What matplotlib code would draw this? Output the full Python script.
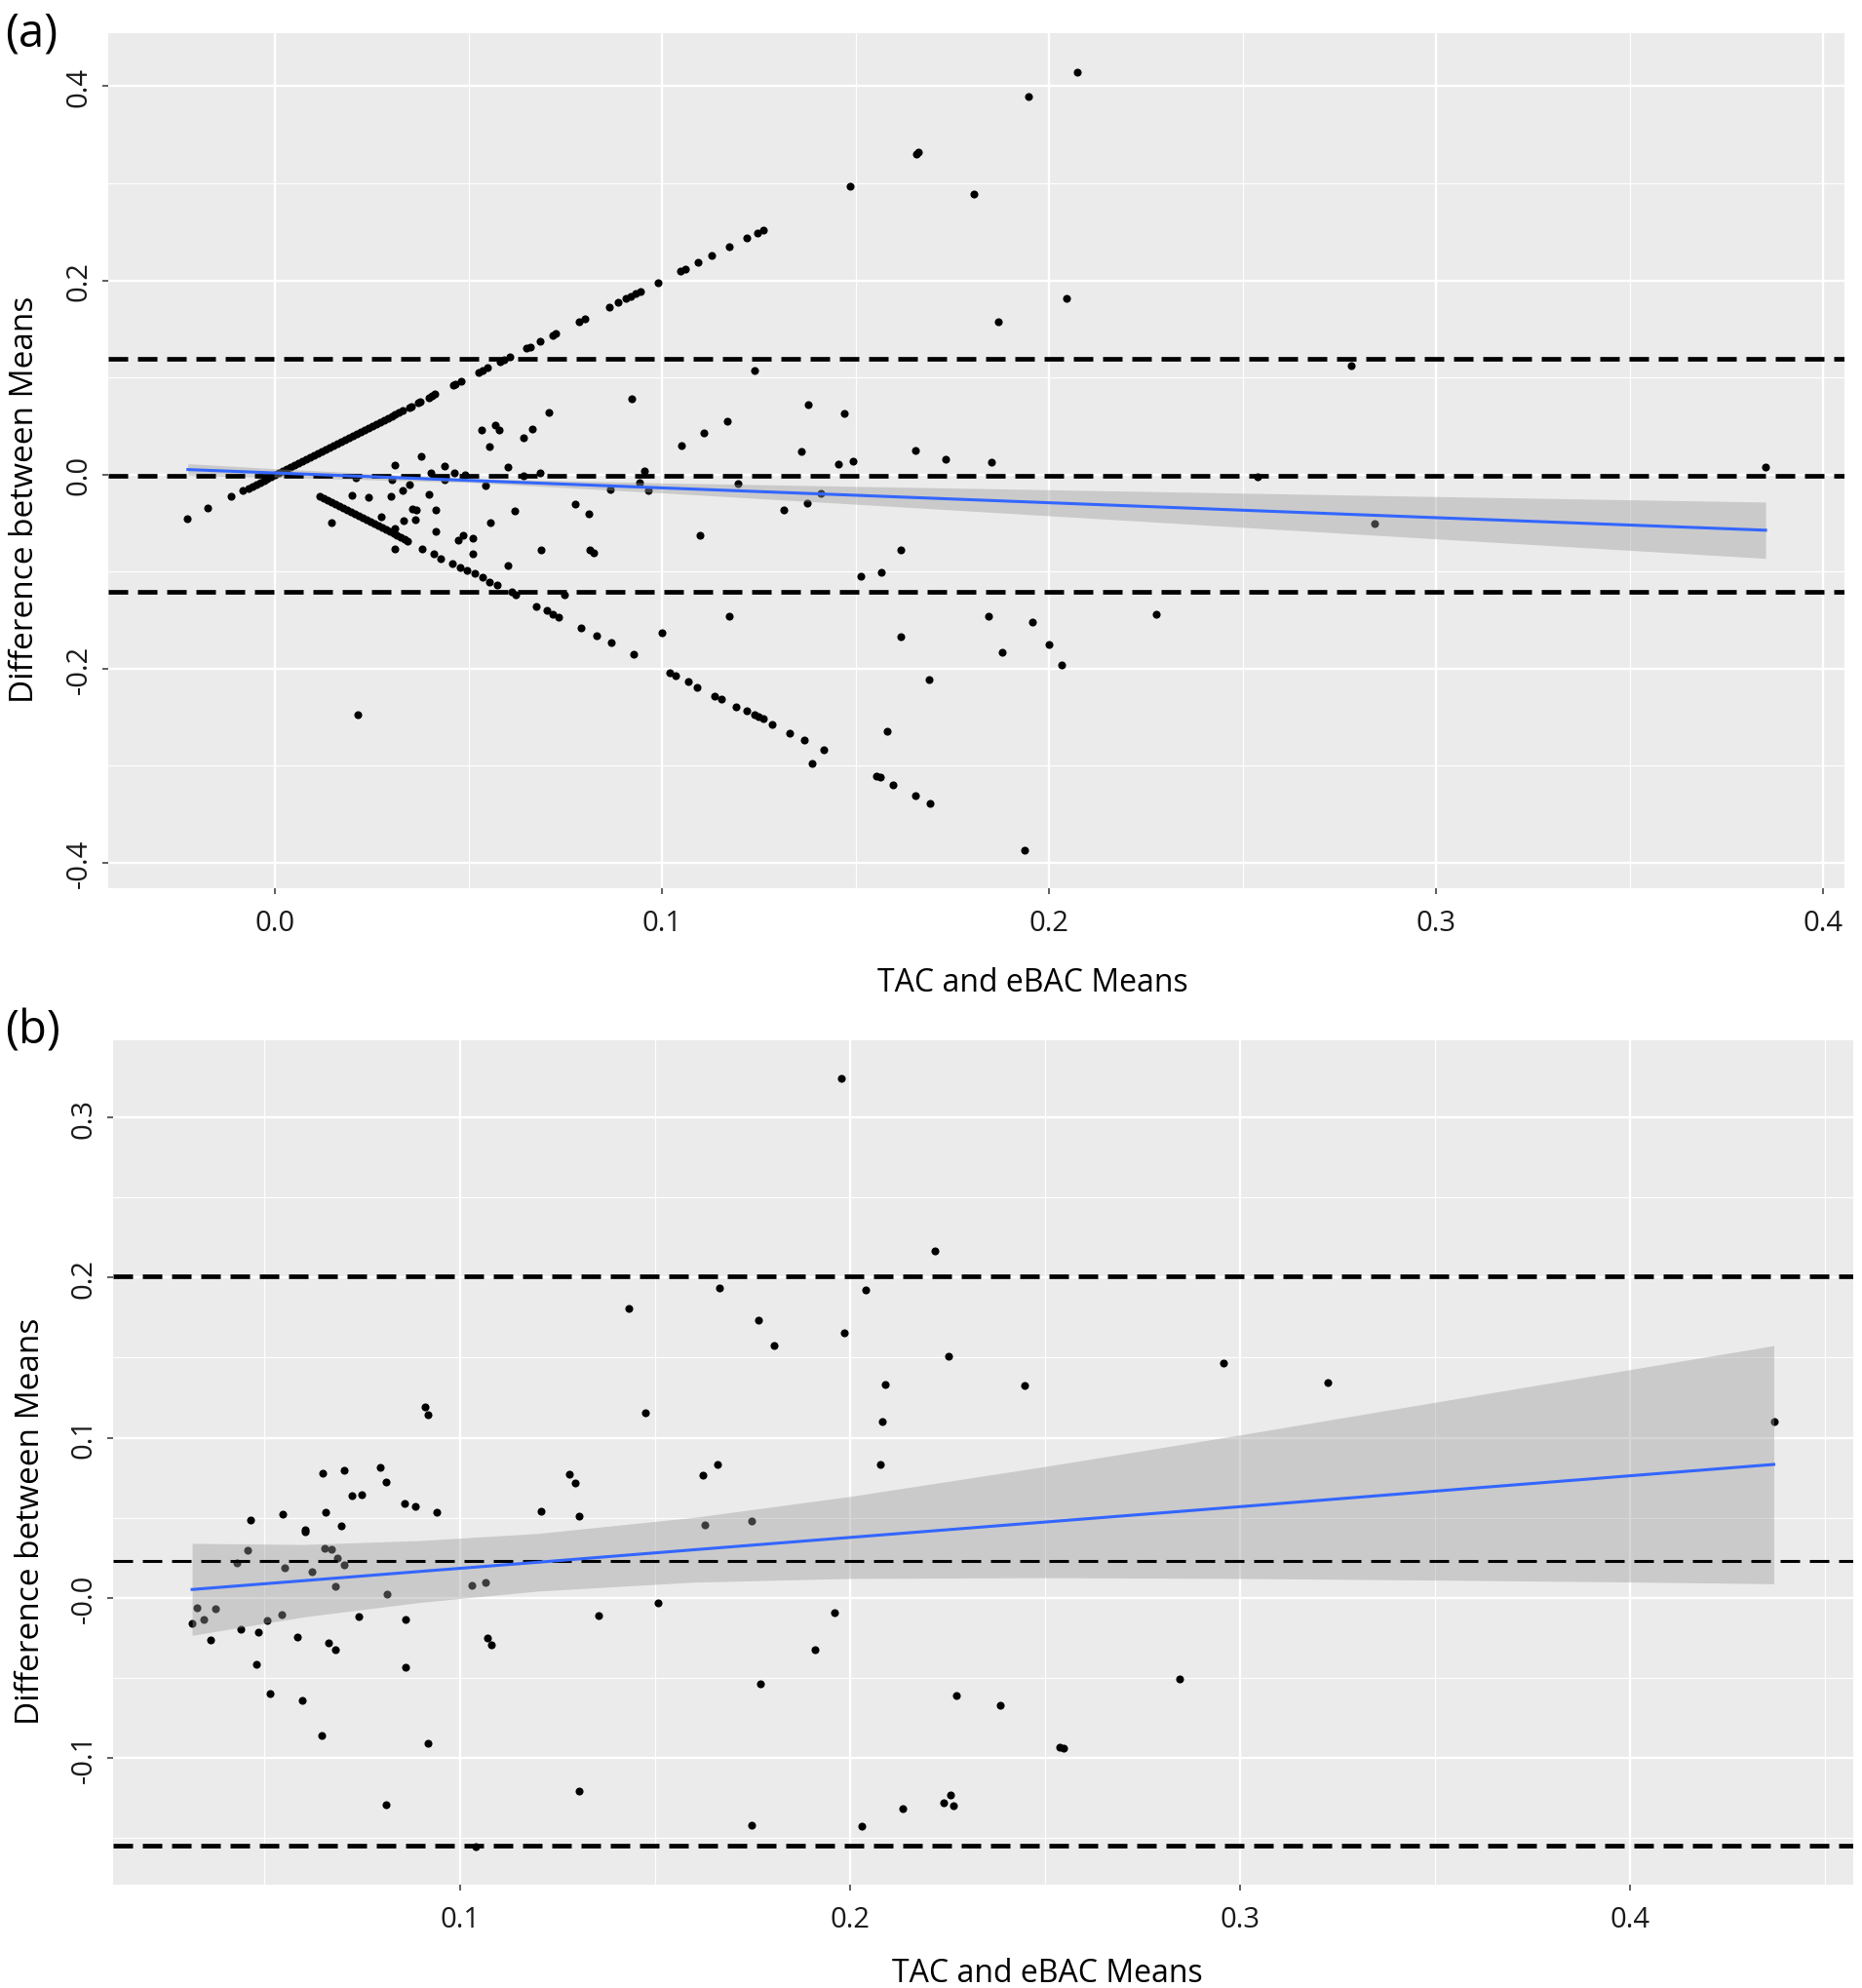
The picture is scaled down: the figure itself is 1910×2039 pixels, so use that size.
import matplotlib.pyplot as plt
from matplotlib.ticker import FixedLocator
import numpy as np

plt.rcParams["font.family"] = ["Open Sans", "DejaVu Sans"]

# * panel (a): points on the rising diagonal (one measure at zero)
a_up_x = [-0.0228, -0.0175, -0.0114, -0.0083,
          -0.0070, -0.0060, -0.0050, -0.0040, -0.0030, -0.0020, -0.0010, 0.0000,
          0.0010, 0.0020, 0.0030, 0.0040, 0.0050, 0.0060, 0.0070, 0.0080, 0.0090,
          0.0100, 0.0110, 0.0120, 0.0130, 0.0140, 0.0150, 0.0160, 0.0170, 0.0180,
          0.0190, 0.0200, 0.0210, 0.0220, 0.0230, 0.0240, 0.0250, 0.0260, 0.0270,
          0.0280, 0.0290, 0.0300, 0.0310, 0.0320, 0.0330,
          0.0346, 0.0352, 0.0369, 0.0375, 0.0397, 0.0405, 0.0413, 0.0459, 0.0466,
          0.0481, 0.0526, 0.0535, 0.0549, 0.0582, 0.0590, 0.0605, 0.0650, 0.0658,
          0.0684, 0.0717, 0.0725, 0.0785, 0.0800, 0.0863, 0.0885, 0.0907, 0.0919,
          0.0930, 0.0944, 0.0989, 0.1048, 0.1060, 0.1091, 0.1127, 0.1172, 0.1219,
          0.1245, 0.1260]
a_up_y = [-0.0456, -0.0350, -0.0228, -0.0166,
          -0.0140, -0.0120, -0.0100, -0.0080, -0.0060, -0.0040, -0.0020, 0.0000,
          0.0020, 0.0040, 0.0060, 0.0080, 0.0100, 0.0120, 0.0140, 0.0160, 0.0180,
          0.0200, 0.0220, 0.0240, 0.0260, 0.0280, 0.0300, 0.0320, 0.0340, 0.0360,
          0.0380, 0.0400, 0.0420, 0.0440, 0.0460, 0.0480, 0.0500, 0.0520, 0.0540,
          0.0560, 0.0580, 0.0600, 0.0620, 0.0640, 0.0660,
          0.0692, 0.0704, 0.0738, 0.0750, 0.0794, 0.0810, 0.0826, 0.0918, 0.0932,
          0.0962, 0.1052, 0.1070, 0.1098, 0.1164, 0.1180, 0.1210, 0.1300, 0.1316,
          0.1368, 0.1434, 0.1450, 0.1570, 0.1600, 0.1726, 0.1770, 0.1814, 0.1838,
          0.1860, 0.1888, 0.1978, 0.2096, 0.2120, 0.2182, 0.2254, 0.2344, 0.2438,
          0.2490, 0.2520]

# * panel (a): points on the falling diagonal
a_down_x = [0.0115, 0.0125, 0.0135, 0.0145, 0.0155, 0.0165, 0.0175, 0.0185, 0.0195,
            0.0205, 0.0215, 0.0225, 0.0235, 0.0245, 0.0255, 0.0265, 0.0275, 0.0285,
            0.0295, 0.0305, 0.0315, 0.0325, 0.0335, 0.0342,
            0.0380, 0.0410, 0.0428, 0.0457, 0.0477, 0.0496, 0.0515, 0.0535, 0.0554,
            0.0573, 0.0611, 0.0621, 0.0675, 0.0703, 0.0718, 0.0732, 0.0790, 0.0829,
            0.0868, 0.0925, 0.1018, 0.1035, 0.1067, 0.1089, 0.1134, 0.1153, 0.1190,
            0.1218, 0.1238, 0.1249, 0.1262, 0.1283, 0.1330, 0.1367, 0.1417, 0.1554,
            0.1564, 0.1597, 0.1653, 0.1693]
a_down_y = [-0.0230, -0.0250, -0.0270, -0.0290, -0.0310, -0.0330, -0.0350, -0.0370,
            -0.0390, -0.0410, -0.0430, -0.0450, -0.0470, -0.0490, -0.0510, -0.0530,
            -0.0550, -0.0570, -0.0590, -0.0610, -0.0630, -0.0650, -0.0670, -0.0684,
            -0.0770, -0.0820, -0.0866, -0.0920, -0.0956, -0.0990, -0.1020, -0.1056,
            -0.1106, -0.1140, -0.1207, -0.1240, -0.1357, -0.1400, -0.1440, -0.1468,
            -0.1580, -0.1660, -0.1736, -0.1850, -0.2040, -0.2073, -0.2135, -0.2190,
            -0.2281, -0.2318, -0.2391, -0.2439, -0.2480, -0.2501, -0.2520, -0.2573,
            -0.2665, -0.2739, -0.2836, -0.3107, -0.3119, -0.3197, -0.3308, -0.3392]

# * panel (a): remaining points
a_other_x = [0.2072, 0.1946, 0.1662, 0.1656, 0.1484, 0.1805, 0.2044, 0.1868, 0.1238,
             0.0920, 0.1377, 0.1470, 0.1167, 0.1107, 0.1049, 0.1359, 0.1653, 0.1733,
             0.1850, 0.1456, 0.1493, 0.0953, 0.0942, 0.0964, 0.0866, 0.1195, 0.1409,
             0.1375, 0.1315, 0.0810, 0.0812, 0.0823, 0.1097, 0.1616, 0.1513, 0.1566,
             0.1617, 0.1172, 0.0998, 0.1844, 0.1957, 0.1877, 0.2000, 0.2033, 0.2277,
             0.1690, 0.1582, 0.1386, 0.1937, 0.2779, 0.2539, 0.2840, 0.3851,
             0.0708, 0.0533, 0.0568, 0.0578, 0.0665, 0.0641, 0.0552, 0.0376, 0.0308,
             0.0436, 0.0600, 0.0402, 0.0462, 0.0684, 0.0207, 0.0301, 0.0438, 0.0491,
             0.0641, 0.0544, 0.0346, 0.0330, 0.0197, 0.0240, 0.0298, 0.0397, 0.0774,
             0.0618, 0.0144, 0.0274, 0.0353, 0.0363, 0.0332, 0.0361, 0.0415, 0.0556,
             0.0308, 0.0415, 0.0472, 0.0486, 0.0510, 0.0510, 0.0308, 0.0687, 0.0600,
             0.0747, 0.0212]
a_other_y = [0.4146, 0.3896, 0.3318, 0.3306, 0.2971, 0.2891, 0.1813, 0.1570, 0.1070,
             0.0778, 0.0723, 0.0626, 0.0547, 0.0425, 0.0297, 0.0236, 0.0248, 0.0157,
             0.0127, 0.0108, 0.0133, 0.0035, -0.0087, -0.0166, -0.0154, -0.0093, -0.0196,
             -0.0294, -0.0367, -0.0410, -0.0775, -0.0805, -0.0623, -0.0775, -0.1049, -0.1006,
             -0.1676, -0.1463, -0.1628, -0.1463, -0.1524, -0.1829, -0.1749, -0.1962, -0.1445,
             -0.2115, -0.2651, -0.2979, -0.3869, 0.1121, -0.0023, -0.0503, 0.0076,
             0.0643, 0.0459, 0.0509, 0.0462, 0.0469, 0.0378, 0.0291, 0.0184, 0.0100,
             0.0090, 0.0077, 0.0017, 0.0017, 0.0017, -0.0034, -0.0050, -0.0050, 0.0000,
             -0.0017, -0.0117, -0.0100, -0.0161, -0.0218, -0.0235, -0.0228, -0.0208, -0.0302,
             -0.0379, -0.0496, -0.0435, -0.0352, -0.0362, -0.0476, -0.0469, -0.0362, -0.0496,
             -0.0553, -0.0586, -0.0677, -0.0630, -0.0653, -0.0821, -0.0764, -0.0777, -0.0938,
             -0.1239, -0.2478]

a_limits = [0.119, -0.001, -0.121]  # upper LoA, mean, lower LoA
a_fit_x = [-0.0226, 0.0, 0.05, 0.1, 0.15, 0.2, 0.25, 0.3, 0.3851]
a_fit_y = [0.0050, 0.0015, -0.0062, -0.0139, -0.0215, -0.0292, -0.0369, -0.0446, -0.0575]
a_band_lo = [-0.0011, -0.0029, -0.0082, -0.0190, -0.0307, -0.0426, -0.0545, -0.0664, -0.0865]
a_band_hi = [0.0111, 0.0059, -0.0042, -0.0088, -0.0123, -0.0158, -0.0193, -0.0228, -0.0285]
a_xticks = [0.0, 0.1, 0.2, 0.3, 0.4]
a_xlabels = ["0.0", "0.1", "0.2", "0.3", "0.4"]
a_yticks = [-0.4, -0.2, 0.0, 0.2, 0.4]
a_ylabels = ["-0.4", "-0.2", "0.0", "0.2", "0.4"]

# * panel (b)
b_x = [0.1434, 0.0912, 0.0919, 0.1477, 0.0650, 0.0703, 0.0795, 0.0811, 0.1281, 0.1295,
       0.0723, 0.0749, 0.0859, 0.0886, 0.0941, 0.1209, 0.1307, 0.0465, 0.0547, 0.0657,
       0.0696, 0.0605, 0.0603, 0.0457, 0.0429, 0.0654, 0.0672, 0.0685, 0.0703, 0.0551,
       0.0621, 0.0682, 0.0814, 0.1031, 0.1066, 0.0326, 0.0375, 0.0345, 0.0314, 0.0545,
       0.0506, 0.0439, 0.0483, 0.0362, 0.0741, 0.0860, 0.0585, 0.0663, 0.0682, 0.1070,
       0.1080, 0.1355, 0.1508, 0.0479, 0.0860, 0.0514, 0.0596, 0.0647, 0.0919, 0.1305,
       0.0811, 0.1042,
       0.1979, 0.2219, 0.1666, 0.2041, 0.1766, 0.1807, 0.1986, 0.2254, 0.2449, 0.2092,
       0.2083, 0.2078, 0.1624, 0.1660, 0.1629, 0.1749, 0.1960, 0.1910, 0.1771, 0.2274,
       0.2387, 0.2539, 0.2548, 0.1749, 0.2032, 0.2135, 0.2241, 0.2258, 0.2267, 0.2845,
       0.2958, 0.3225, 0.4369]
b_y = [0.1807, 0.1193, 0.1142, 0.1153, 0.0780, 0.0796, 0.0813, 0.0723, 0.0772, 0.0718,
       0.0636, 0.0644, 0.0587, 0.0574, 0.0533, 0.0541, 0.0508, 0.0487, 0.0525, 0.0533,
       0.0451, 0.0422, 0.0413, 0.0299, 0.0220, 0.0310, 0.0302, 0.0250, 0.0207, 0.0185,
       0.0161, 0.0071, 0.0024, 0.0079, 0.0095, -0.0062, -0.0071, -0.0133, -0.0158, -0.0103,
       -0.0141, -0.0196, -0.0212, -0.0261, -0.0117, -0.0133, -0.0244, -0.0282, -0.0323, -0.0252,
       -0.0296, -0.0108, -0.0030, -0.0418, -0.0434, -0.0600, -0.0641, -0.0861, -0.0910, -0.1204,
       -0.1290, -0.1551,
       0.3242, 0.2164, 0.1932, 0.1921, 0.1737, 0.1578, 0.1655, 0.1508, 0.1324, 0.1335,
       0.1102, 0.0833, 0.0763, 0.0833, 0.0453, 0.0482, -0.0093, -0.0325, -0.0539, -0.0609,
       -0.0672, -0.0930, -0.0941, -0.1417, -0.1425, -0.1314, -0.1281, -0.1233, -0.1299, -0.0506,
       0.1467, 0.1344, 0.1102]

b_limits = [0.201, 0.023, -0.155]
b_fit_x = [0.0314, 0.06, 0.09, 0.12, 0.16, 0.2, 0.25, 0.3, 0.35, 0.4, 0.4369]
b_fit_y = [0.0052, 0.0107, 0.0165, 0.0222, 0.0300, 0.0377, 0.0473, 0.0569, 0.0666, 0.0762, 0.0833]
b_band_lo = [-0.0234, -0.0119, -0.0028, 0.0042, 0.0098, 0.0121, 0.0126, 0.0121, 0.0111, 0.0099, 0.0088]
b_band_hi = [0.0340, 0.0333, 0.0358, 0.0402, 0.0502, 0.0633, 0.0820, 0.1017, 0.1221, 0.1425, 0.1575]
b_xticks = [0.1, 0.2, 0.3, 0.4]
b_xlabels = ["0.1", "0.2", "0.3", "0.4"]
b_yticks = [-0.1, 0.0, 0.1, 0.2, 0.3]
b_ylabels = ["-0.1", "-0.0", "0.1", "0.2", "0.3"]


def expanded(values, frac=0.05):
    lo, hi = min(values), max(values)
    pad = (hi - lo) * frac
    return lo - pad, hi + pad


def bland_altman(ax, x, y, limits, fit, band, xticks, xlabels, yticks, ylabels, mean_lw):
    ax.set_facecolor("#EBEBEB")
    for s in ax.spines.values():
        s.set_visible(False)
    ax.scatter(x, y, s=34, color="black", linewidths=0, zorder=2)
    ax.fill_between(fit[0], band[0], band[1], color="#999999", alpha=0.4,
                    linewidth=0, zorder=3)
    for i, v in enumerate(limits):
        lw = mean_lw if i == 1 else 3.4
        ax.axhline(v, color="black", lw=lw, linestyle=(0, (20 * 0.72 / lw, 10 * 0.72 / lw)),
                   zorder=4)
    ax.plot(fit[0], fit[1], color="#3366FF", lw=2.2, zorder=5)

    ax.set_xlim(*expanded(x))
    ax.set_ylim(*expanded(y))
    ax.set_xticks(xticks)
    ax.set_xticklabels(xlabels)
    ax.set_yticks(yticks)
    ax.set_yticklabels(ylabels, rotation=90, va="center")
    xt = np.array(xticks)
    yt = np.array(yticks)
    xs = xt[1] - xt[0]
    ys = yt[1] - yt[0]
    ax.xaxis.set_minor_locator(FixedLocator(np.arange(xt[0] - xs / 2, xt[-1] + xs, xs)))
    ax.yaxis.set_minor_locator(FixedLocator(np.arange(yt[0] - ys / 2, yt[-1] + ys, ys)))
    ax.grid(True, which="major", color="white", lw=1.7)
    ax.grid(True, which="minor", color="white", lw=0.8)
    ax.set_axisbelow(True)
    ax.tick_params(which="major", length=4, width=1.1, color="#333333",
                   labelsize=21, labelcolor="#1a1a1a")
    ax.tick_params(which="minor", length=0)
    ax.tick_params(axis="x", pad=11)
    ax.tick_params(axis="y", pad=7)


fig = plt.figure(figsize=(19.1, 20.4), dpi=100)

ax_a = fig.add_axes([0.0581, 0.5527, 0.9325, 0.4301])
bland_altman(ax_a, a_up_x + a_down_x + a_other_x, a_up_y + a_down_y + a_other_y,
             a_limits, (a_fit_x, a_fit_y), (a_band_lo, a_band_hi),
             a_xticks, a_xlabels, a_yticks, a_ylabels, mean_lw=3.4)

ax_b = fig.add_axes([0.0607, 0.0520, 0.9344, 0.4245])
bland_altman(ax_b, b_x, b_y, b_limits, (b_fit_x, b_fit_y), (b_band_lo, b_band_hi),
             b_xticks, b_xlabels, b_yticks, b_ylabels, mean_lw=2.2)

fig.text(1059 / 1910, 1 - 1017 / 2040, "TAC and eBAC Means", ha="center",
         va="baseline", fontsize=23)
fig.text(1074 / 1910, 1 - 2033 / 2040, "TAC and eBAC Means", ha="center",
         va="baseline", fontsize=23)
fig.text(26 / 1910, 1 - 512 / 2040, "Difference between Means", rotation=90,
         ha="center", va="center", fontsize=24)
fig.text(32 / 1910, 1 - 1560 / 2040, "Difference between Means", rotation=90,
         ha="center", va="center", fontsize=24)
fig.text(5 / 1910, 1 - 35 / 2040, "(a)", ha="left", va="center", fontsize=34)
fig.text(5 / 1910, 1 - 1058 / 2040, "(b)", ha="left", va="center", fontsize=34)

fig.savefig("out.png", dpi=100)
